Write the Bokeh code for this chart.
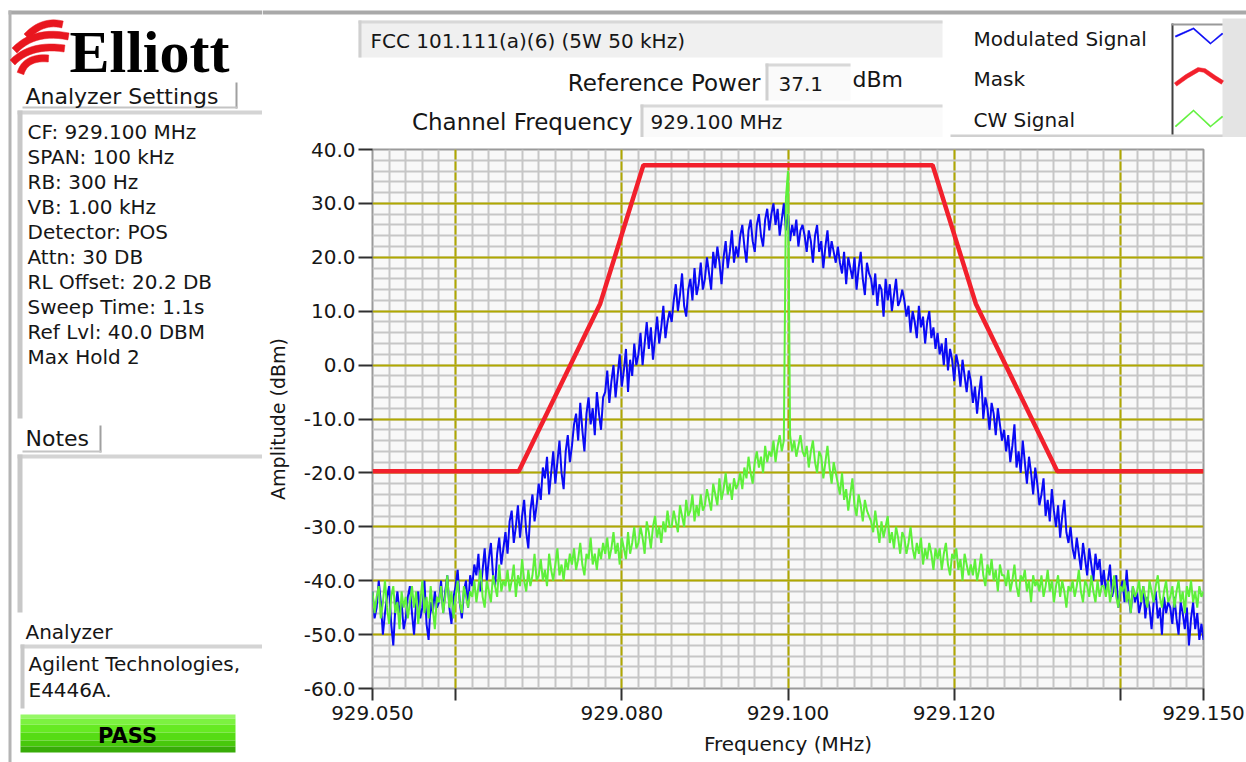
import numpy as np
from bokeh.plotting import figure
from bokeh.layouts import row, column
from bokeh.models import FixedTicker, PrintfTickFormatter, Label, Range1d
from bokeh.embed import file_html
from bokeh.resources import INLINE

# ---------------- data ----------------
FREQ_START = 929.050
FREQ_STEP = 0.00025

MODULATED_DBM = [
    -42, -47, -45, -40, -44, -50, -46, -43, -41, -48, -52, -45, -42, -46, -44, -49,
    -47, -43, -41, -46, -50, -44, -42, -47, -45, -40, -48, -51, -44, -46, -42, -45,
    -44, -40, -46, -42, -39, -45, -48, -43, -41, -38, -44, -47, -42, -40, -45, -39,
    -41, -37, -39, -35, -42, -38, -34, -40, -36, -33, -39, -41, -35, -32, -37, -34,
    -31, -35, -29, -27, -33, -30, -26, -32, -28, -25, -31, -34, -27, -24, -29, -26,
    -22, -25, -19, -21, -17, -24, -20, -16, -22, -18, -14, -20, -23, -16, -13, -18,
    -15, -11, -9, -14, -7, -12, -16, -9, -6, -11, -8, -13, -5, -9, -12, -6,
    -5, -1, -7, -3, 0, -6, -2, 2, -4, -1, 3, -5, 1, -2, 4, 0,
    2, 6, 0, 4, 8, 3, 7, 1, 5, 9, 4, 7, 11, 5, 8, 10,
    8, 12, 15, 10, 13, 17, 11, 9, 14, 16, 12, 18, 13, 15, 19, 14,
    16, 20, 17, 14, 21, 18, 22, 19, 15, 20, 23, 18, 21, 25, 19, 22,
    20, 24, 26, 22, 19, 25, 27, 23, 21, 26, 28, 24, 22, 27, 29, 25,
    28, 30, 26, 29, 24, 27, 30, 25, 28, 23, 26, 24, 27, 22, 25, 26,
    24, 21, 25, 23, 19, 24, 26, 21, 23, 18, 22, 25, 20, 23, 21, 19,
    22, 19, 17, 21, 15, 20, 18, 16, 20, 14, 18, 21, 16, 13, 19, 17,
    16, 13, 17, 11, 15, 14, 9, 16, 12, 15, 10, 13, 16, 11, 12, 14,
    12, 9, 11, 6, 10, 8, 5, 11, 7, 9, 4, 8, 10, 5, 7, 3,
    6, 2, 4, 0, 5, -1, 3, 1, -3, 2, 0, -4, 1, -2, -5, -1,
    -3, -7, -4, -9, -5, -2, -10, -6, -8, -12, -7, -9, -13, -8, -11, -14,
    -12, -16, -13, -18, -15, -11, -19, -16, -20, -14, -18, -22, -17, -20, -24, -19,
    -22, -26, -24, -21, -28, -25, -29, -23, -27, -30, -26, -32, -28, -25, -31, -33,
    -30, -34, -36, -32, -35, -38, -33, -36, -39, -34, -37, -40, -35, -38, -36, -41,
    -38, -42, -40, -37, -43, -41, -39, -45, -42, -40, -44, -38, -43, -46, -41, -44,
    -42, -46, -44, -41, -47, -43, -45, -49, -44, -42, -47, -45, -50, -43, -46, -44,
    -45, -48, -43, -47, -50, -44, -46, -49, -45, -52, -47, -44, -49, -46, -51, -48,
    -51,
]

CW_DBM = [
    -42, -46, -43, -41, -47, -44, -40, -45, -48, -43, -41, -46, -44, -49, -42, -45,
    -43, -47, -44, -41, -45, -42, -48, -44, -40, -46, -43, -47, -41, -45, -49, -43,
    -44, -41, -46, -43, -39, -45, -42, -47, -43, -40, -44, -46, -41, -43, -45, -42,
    -43, -40, -44, -41, -38, -43, -45, -40, -42, -44, -39, -41, -43, -37, -42, -40,
    -41, -38, -42, -40, -37, -43, -39, -41, -36, -40, -42, -38, -41, -39, -35, -40,
    -39, -36, -40, -38, -41, -35, -38, -40, -37, -34, -39, -37, -40, -36, -38, -35,
    -37, -34, -38, -36, -33, -37, -39, -35, -36, -32, -37, -35, -38, -34, -36, -33,
    -35, -32, -36, -34, -31, -35, -33, -37, -32, -34, -36, -31, -35, -33, -30, -34,
    -33, -30, -32, -35, -29, -31, -34, -30, -28, -32, -30, -33, -29, -31, -27, -30,
    -30, -27, -29, -31, -26, -28, -30, -25, -28, -27, -24, -29, -26, -28, -24, -27,
    -26, -23, -25, -27, -22, -24, -26, -21, -25, -23, -20, -24, -22, -25, -21, -23,
    -22, -20, -23, -19, -21, -17, -20, -22, -18, -16, -19, -17, -20, -15, -18, -16,
    -17, -14, -18, -15, -13, -16, -14, 31, 36, -13, -16, -14, -17, -15, -13, -16,
    -17, -15, -19, -16, -14, -18, -20, -16, -17, -21, -18, -15, -19, -22, -18, -20,
    -22, -24, -20, -25, -23, -27, -24, -21, -26, -28, -24, -26, -29, -25, -27, -28,
    -29, -31, -27, -30, -33, -29, -32, -30, -28, -33, -31, -34, -30, -32, -35, -31,
    -32, -35, -33, -30, -34, -36, -33, -35, -32, -37, -34, -36, -33, -35, -38, -34,
    -36, -34, -38, -35, -33, -37, -39, -35, -36, -34, -38, -36, -40, -35, -37, -39,
    -37, -39, -36, -40, -38, -35, -39, -41, -37, -39, -36, -40, -38, -42, -37, -39,
    -39, -41, -38, -42, -40, -37, -41, -43, -39, -40, -38, -42, -40, -44, -39, -41,
    -40, -42, -39, -43, -41, -38, -42, -40, -44, -41, -39, -43, -40, -42, -45, -41,
    -42, -40, -43, -41, -38, -42, -44, -40, -41, -43, -39, -42, -44, -40, -43, -41,
    -41, -43, -40, -44, -42, -39, -43, -45, -41, -42, -40, -44, -42, -46, -41, -43,
    -42, -40, -44, -41, -43, -45, -40, -42, -44, -41, -39, -43, -45, -42, -40, -44,
    -43, -41, -45, -42, -40, -44, -42, -46, -41, -43, -40, -44, -42, -45, -41, -43,
    -42,
]

MASK_MHZ = [929.050, 929.0676, 929.0774, 929.0826, 929.1174, 929.1226, 929.1324, 929.150]
MASK_DBM = [-19.7, -19.7, 11.4, 37.1, 37.1, 11.4, -19.7, -19.7]

X_TICKS = [929.05, 929.06, 929.08, 929.10, 929.12, 929.14, 929.15]
X_TICK_LABELS = ["929.050", "", "929.080", "929.100", "929.120", "", "929.150"]
X_GRID_MAJOR = [929.06, 929.08, 929.10, 929.12, 929.14]
X_GRID_MINOR = [929.050, 929.052, 929.054, 929.056, 929.058, 929.060, 929.062, 929.064,
                929.066, 929.068, 929.070, 929.072, 929.074, 929.076, 929.078, 929.080,
                929.082, 929.084, 929.086, 929.088, 929.090, 929.092, 929.094, 929.096,
                929.098, 929.100, 929.102, 929.104, 929.106, 929.108, 929.110, 929.112,
                929.114, 929.116, 929.118, 929.120, 929.122, 929.124, 929.126, 929.128,
                929.130, 929.132, 929.134, 929.136, 929.138, 929.140, 929.142, 929.144,
                929.146, 929.148, 929.150]
Y_TICKS = [-60, -50, -40, -30, -20, -10, 0, 10, 20, 30, 40]
Y_GRID_MINOR = list(range(-60, 41, 2))

SETTINGS_LINES = ["CF: 929.100 MHz", "SPAN: 100 kHz", "RB: 300 Hz", "VB: 1.00 kHz",
                  "Detector: POS", "Attn: 30 DB", "RL Offset: 20.2 DB", "Sweep Time: 1.1s",
                  "Ref Lvl: 40.0 DBM", "Max Hold 2"]
LEGEND_NAMES = ["Modulated Signal", "Mask", "CW Signal"]
COLORS = {"mod": "#0a0af5", "mask": "#f2202c", "cw": "#5ef03a"}

freq_mod = FREQ_START + FREQ_STEP * np.arange(len(MODULATED_DBM))
freq_cw = FREQ_START + FREQ_STEP * np.arange(len(CW_DBM))

FONT = "DejaVu Sans"
TXT = "#161616"

# ---------------- page geometry ----------------
PAGE_W, PAGE_H = 1246, 762
LEFT_W = 262
TOP_H = 137
FL, FR, FT, FB = 372, 1203, 149, 688   # plot frame in page pixels


def deco_fig(x0, x1, y0, y1):
    f = figure(width=x1 - x0, height=y1 - y0, x_range=Range1d(x0, x1),
               y_range=Range1d(y1, y0), x_axis_type=None, y_axis_type=None,
               min_border=0, toolbar_location=None, output_backend="svg",
               outline_line_color=None, background_fill_color="white",
               border_fill_color="white", frame_align=False)
    f.grid.visible = False
    return f


def box(f, x0, y0, x1, y1, color):
    f.quad(left=[x0], right=[x1], top=[y0], bottom=[y1], fill_color=color,
           line_color=None)


def stroke(f, pts, w, color):
    a = np.array(pts, dtype=float)
    d = np.gradient(a, axis=0)
    n = np.hypot(d[:, 0], d[:, 1])
    n[n == 0] = 1
    off = np.c_[-d[:, 1] / n, d[:, 0] / n] * w / 2
    ring = np.vstack([a + off, (a - off)[::-1]])
    f.patch(list(ring[:, 0]), list(ring[:, 1]), fill_color=color, line_color=color,
            line_width=0.5)


def bez(p0, p1, p2, n=14):
    t = np.linspace(0, 1, n)
    x = (1 - t) ** 2 * p0[0] + 2 * (1 - t) * t * p1[0] + t ** 2 * p2[0]
    y = (1 - t) ** 2 * p0[1] + 2 * (1 - t) * t * p1[1] + t ** 2 * p2[1]
    return list(zip(x, y))


def text(f, px, py, s, size="20px", align="left", bold=False, font=FONT,
         baseline="middle", color=TXT):
    f.add_layout(Label(x=px, y=py, text=s, text_font=font, text_font_size=size,
                       text_align=align, text_baseline=baseline, text_color=color,
                       text_font_style="bold" if bold else "normal"))


# ---------------- left panel ----------------
lf = deco_fig(0, LEFT_W, 0, PAGE_H)
box(lf, 8, 10, LEFT_W, 14, "#a9a9a9")
box(lf, 8, 10, 11, PAGE_H, "#b4b4b4")
for b in [bez((26, 36), (42, 19), (62, 24)), bez((14, 50), (34, 29), (68, 36)),
          bez((12, 62), (30, 43), (64, 48)), bez((20, 73), (25, 56), (48, 58))]:
    stroke(lf, b, 7, "#e8161e")
text(lf, 69, 51, "Elliott", size="60px", bold=True, font="Liberation Serif",
     color="#000000")

box(lf, 235, 82, 237, 108, "#a0a0a0")
box(lf, 22, 106, 237, 108, "#c4c4c4")
box(lf, 17, 110, 262, 114, "#d4d4d4")
box(lf, 17, 110, 22, 418, "#c8c8c8")
text(lf, 25, 96, "Analyzer Settings", size="22px")
for k, s in enumerate(SETTINGS_LINES):
    text(lf, 27, 131 + 25 * k, s)

box(lf, 99, 425, 101, 452, "#a0a0a0")
box(lf, 22, 450, 101, 452, "#c4c4c4")
box(lf, 17, 454, 262, 458, "#d4d4d4")
box(lf, 17, 454, 22, 612, "#c8c8c8")
text(lf, 25, 438, "Notes", size="22px")

text(lf, 25, 631, "Analyzer", size="20px")
box(lf, 20, 644, 262, 648, "#d4d4d4")
box(lf, 20, 644, 24, 708, "#c8c8c8")
text(lf, 28, 663, "Agilent Technologies,")
text(lf, 28, 689, "E4446A.")

for (y0, y1, c) in [(714, 718, "#96f866"), (718, 724, "#7cf240"), (724, 732, "#66ea22"),
                    (732, 740, "#56dc14"), (740, 746, "#48c80c"), (746, 752, "#38ac08")]:
    box(lf, 20, y0, 235, y1, c)
text(lf, 127, 735, "PASS", size="21px", bold=True, align="center", color="#000000")

# ---------------- top panel ----------------
tf = deco_fig(LEFT_W, PAGE_W, 0, TOP_H)
box(tf, LEFT_W, 10, PAGE_W, 14, "#a9a9a9")
box(tf, 358, 20, 942, 57, "#f0f0f0")
box(tf, 358, 20, 942, 23, "#d8d8d8")
box(tf, 358, 20, 361, 57, "#d0d0d0")
text(tf, 370, 40, "FCC 101.111(a)(6) (5W 50 kHz)")

text(tf, 760, 82, "Reference Power", size="23px", align="right")
box(tf, 765, 63, 850, 100, "#fafafa")
box(tf, 765, 63, 850, 66, "#d8d8d8")
box(tf, 765, 63, 768, 100, "#d0d0d0")
text(tf, 778, 83, "37.1")
text(tf, 852, 79, "dBm", size="22px")

text(tf, 632, 121, "Channel Frequency", size="23px", align="right")
box(tf, 640, 104, 942, 137, "#fafafa")
box(tf, 640, 104, 942, 107, "#d8d8d8")
box(tf, 640, 104, 643, 137, "#d0d0d0")
text(tf, 650, 121, "929.100 MHz")

box(tf, 950, 134, 1246, 137, "#d0d0d0")
box(tf, 1222, 18, 1246, 137, "#e4e4e4")
box(tf, 1171, 23, 1173, 134, "#404040")
box(tf, 1171, 23, 1222, 25, "#9a9a9a")
for k, name in enumerate(LEGEND_NAMES):
    text(tf, 973, 38 + 40.5 * k, name)
stroke(tf, [(1175, 36), (1193, 28), (1210, 43), (1222, 33)], 1.4, COLORS["mod"])
stroke(tf, [(1175, 84), (1186, 76), (1198, 69), (1204, 70), (1214, 77), (1222, 82)], 4.0,
       COLORS["mask"])
stroke(tf, [(1175, 126), (1193, 110), (1210, 126), (1222, 116)], 1.4, COLORS["cw"])

# ---------------- main plot ----------------
p = figure(width=PAGE_W - LEFT_W, height=PAGE_H - TOP_H, output_backend="svg",
           toolbar_location=None, frame_align=False,
           x_range=Range1d(929.05, 929.15), y_range=Range1d(-60, 40),
           min_border_left=FL - LEFT_W, min_border_right=PAGE_W - FR,
           min_border_top=FT - TOP_H, min_border_bottom=PAGE_H - FB,
           background_fill_color="#f8f8f8", border_fill_color="white",
           outline_line_color="#9a9a9a", outline_line_width=2)

p.xgrid.ticker = FixedTicker(ticks=X_GRID_MAJOR, minor_ticks=X_GRID_MINOR)
p.ygrid.ticker = FixedTicker(ticks=Y_TICKS, minor_ticks=Y_GRID_MINOR)
for g in (p.xgrid, p.ygrid):
    g.grid_line_color = "#b0a800"
    g.grid_line_width = 2
    g.minor_grid_line_color = "#c6c6c6"
    g.minor_grid_line_width = 2

p.xaxis.ticker = FixedTicker(ticks=X_TICKS)
p.xaxis.major_label_overrides = {t: s for t, s in zip(X_TICKS, X_TICK_LABELS)}
p.yaxis.ticker = FixedTicker(ticks=Y_TICKS)
p.yaxis.formatter = PrintfTickFormatter(format="%.1f")
for ax in (p.xaxis, p.yaxis):
    ax.axis_line_color = None
    ax.major_tick_in = 0
    ax.minor_tick_in = 0
    ax.minor_tick_out = 0
    ax.major_tick_line_color = "#303030"
    ax.major_tick_line_width = 2
    ax.major_label_text_font = FONT
    ax.major_label_text_font_size = "20px"
    ax.major_label_text_color = TXT
    ax.axis_label_text_font = FONT
    ax.axis_label_text_font_style = "normal"
    ax.axis_label_text_color = TXT
p.xaxis.major_tick_out = 12
p.xaxis.major_label_standoff = 5
p.xaxis.axis_label = "Frequency (MHz)"
p.xaxis.axis_label_text_font_size = "20px"
p.xaxis.axis_label_standoff = 9
p.yaxis.major_tick_out = 14
p.yaxis.major_label_standoff = 3
p.yaxis.axis_label = "Amplitude (dBm)"
p.yaxis.axis_label_text_font_size = "19px"
p.yaxis.axis_label_standoff = 12

p.line(freq_mod, MODULATED_DBM, line_color=COLORS["mod"], line_width=2)
p.line(MASK_MHZ, MASK_DBM, line_color=COLORS["mask"], line_width=4.5)
p.line(freq_cw, CW_DBM, line_color=COLORS["cw"], line_width=2)

layout = row(lf, column(tf, p))
open("out.html", "w").write(file_html(layout, INLINE))
